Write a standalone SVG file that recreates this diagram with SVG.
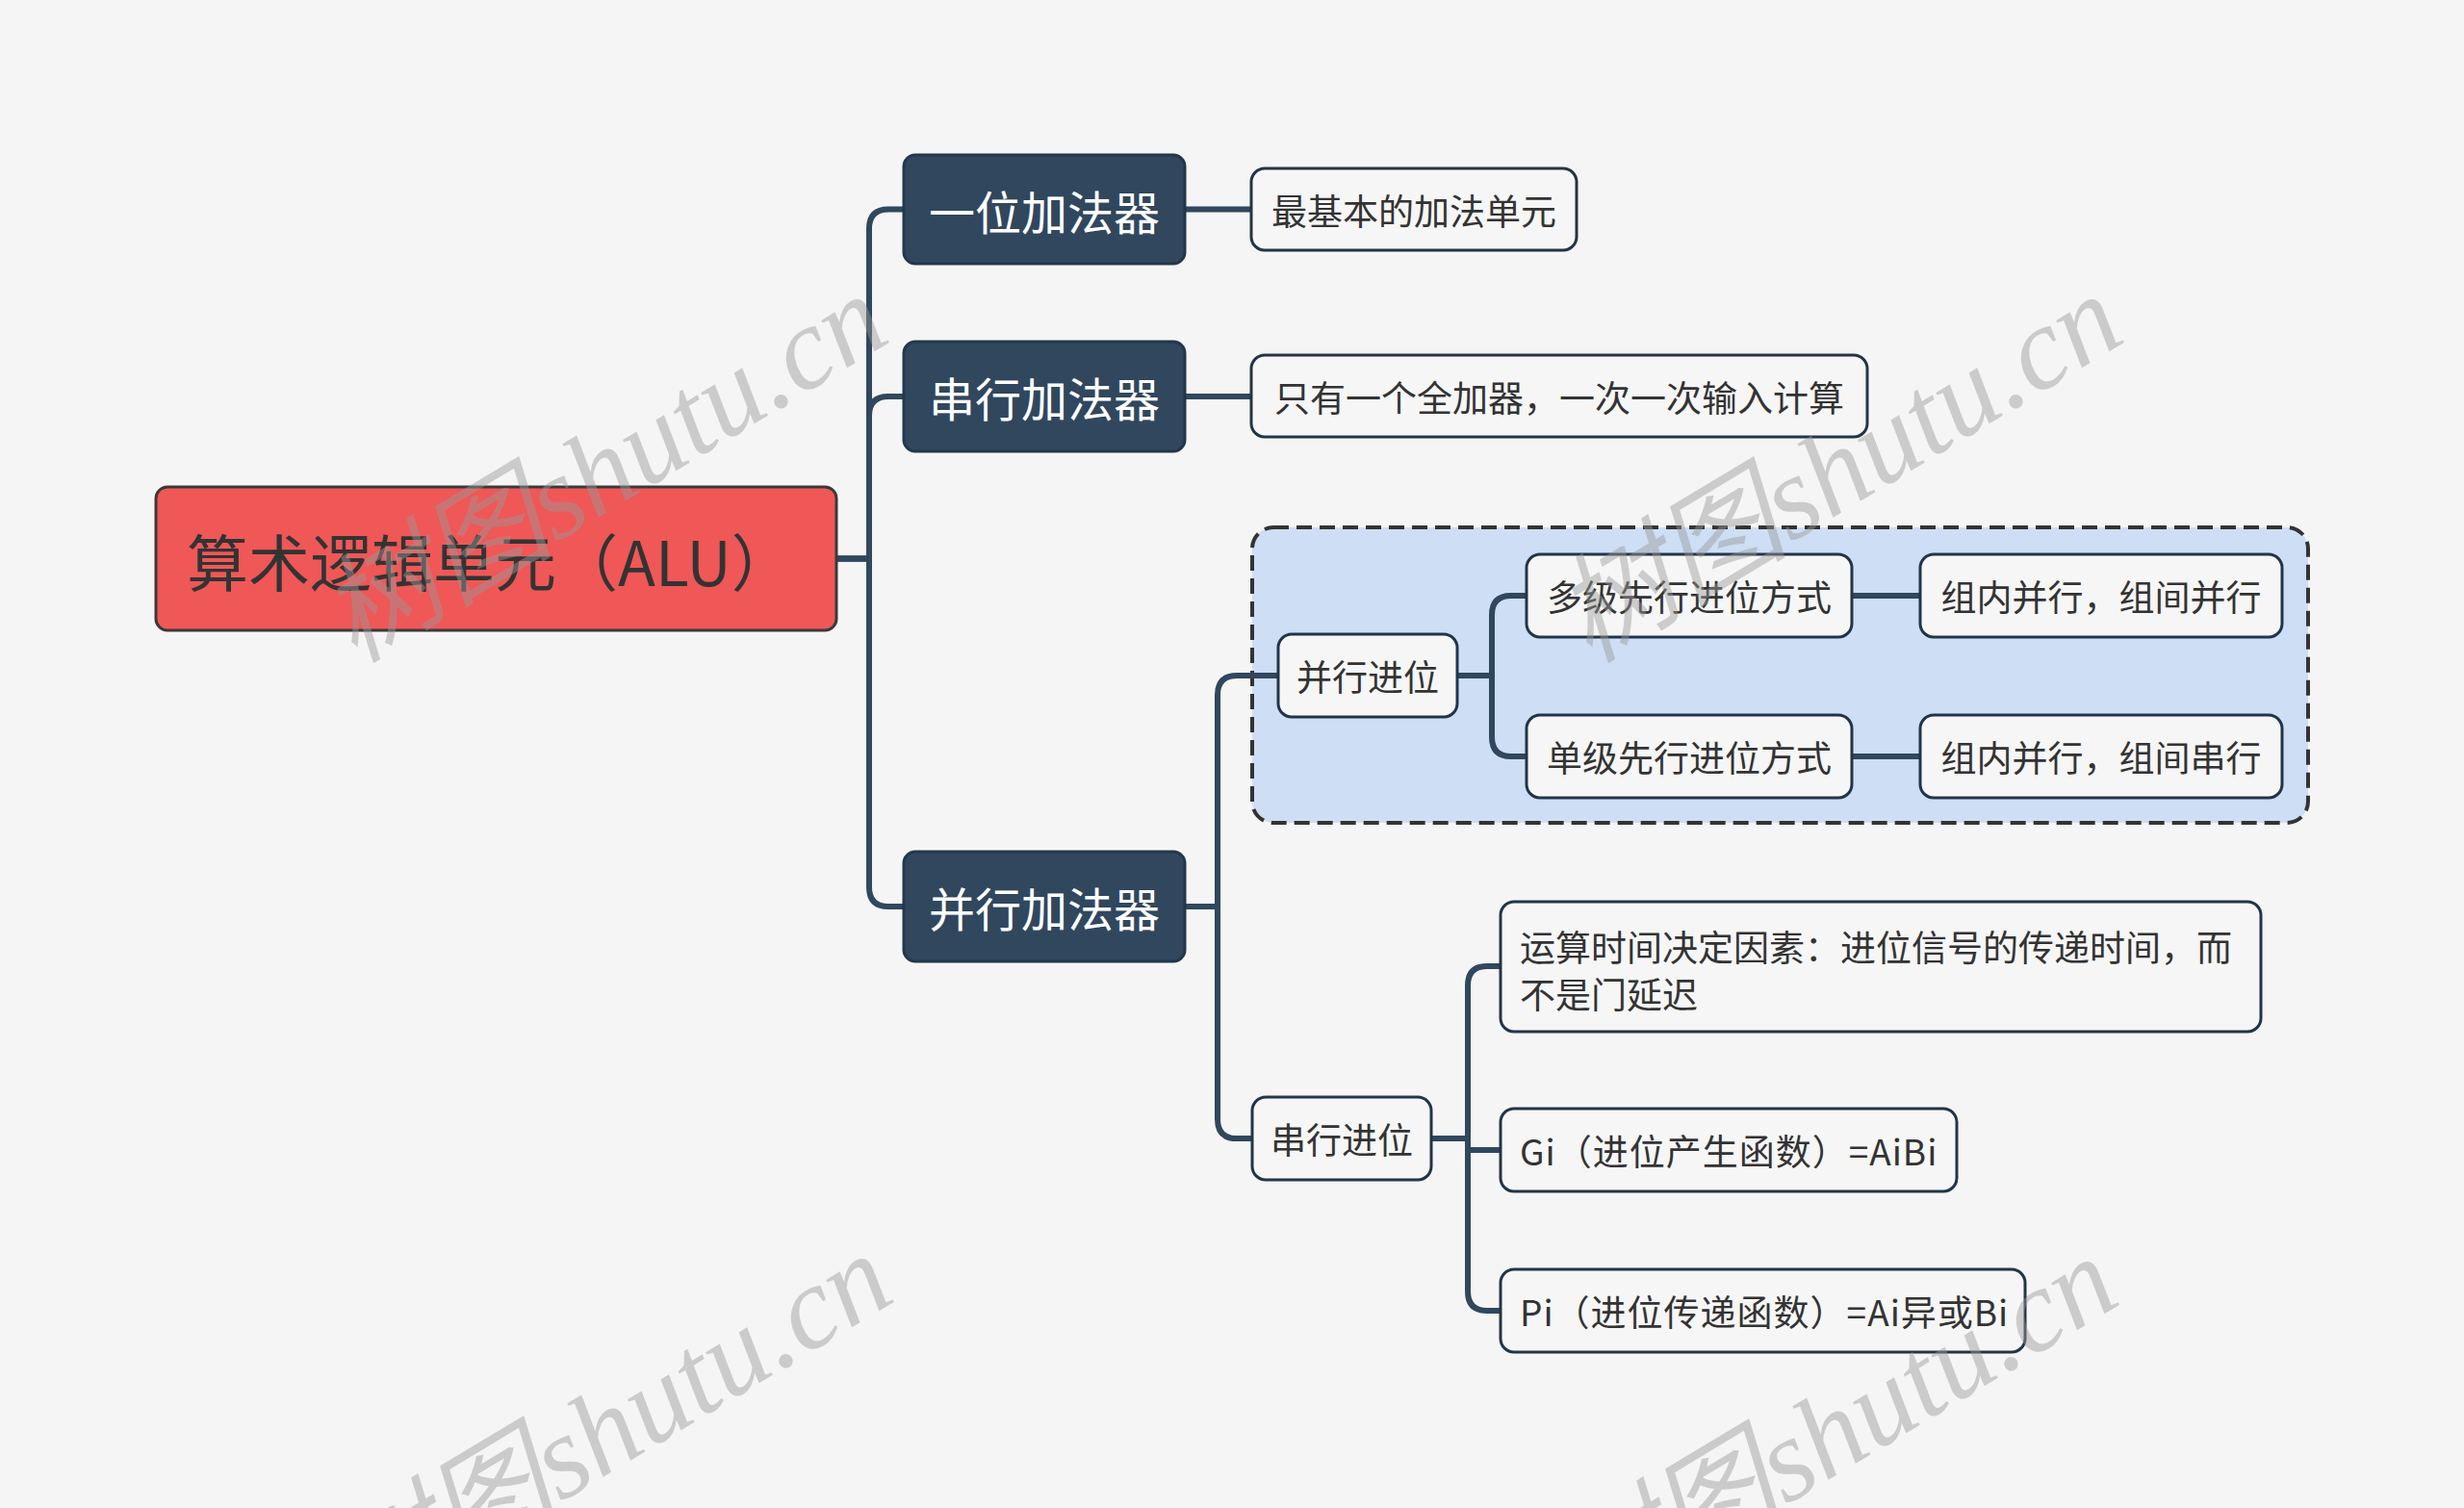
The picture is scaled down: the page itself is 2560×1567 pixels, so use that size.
<svg xmlns="http://www.w3.org/2000/svg" width="2560" height="1567" viewBox="0 0 2560 1567">
<defs>
<style>
.bg{fill:#f5f5f5}
.root rect{fill:#f05757;stroke:#3a3a3a;stroke-width:3}
.root text{font-family:"Noto Sans CJK SC","Noto Sans",sans-serif;font-size:64px;fill:#333;dominant-baseline:central}
.l1 rect{fill:#30475e;stroke:#24374a;stroke-width:3}
.l1 text{font-family:"Noto Sans CJK SC","Noto Sans",sans-serif;font-size:48px;fill:#fff;text-anchor:middle;dominant-baseline:central}
.lf rect{fill:#f6f6f6;stroke:#223548;stroke-width:3}
.lf text{font-family:"Noto Sans CJK SC","Noto Sans",sans-serif;font-size:37px;fill:#333;dominant-baseline:central}
.lf text.c{text-anchor:middle}
.lf text.w{letter-spacing:1px}
.conn path{fill:none;stroke:#30475e;stroke-width:6;stroke-linejoin:round}
.wm{font-family:"Liberation Serif","Noto Sans CJK SC",serif;font-style:italic;font-size:122px;fill:#999;fill-opacity:0.45}
</style>
</defs>
<rect class="bg" x="0" y="0" width="2560" height="1567"/>

<g id="boundary">
<rect x="1301" y="548" width="1097" height="307" rx="22" fill="#cddef5" stroke="#333" stroke-width="4" stroke-dasharray="16 8"/>
</g>

<g class="conn" id="connectors">
<path d="M869 580.5 H903 V237.5 Q903 217.5 923 217.5 H939"/>
<path d="M869 580.5 H903 V432 Q903 412 923 412 H939"/>
<path d="M869 580.5 H903 V922 Q903 942 923 942 H939"/>
<path d="M1231 217.5 H1300"/>
<path d="M1231 412 H1300"/>
<path d="M1231 942 H1265 V722 Q1265 702 1285 702 H1328"/>
<path d="M1231 942 H1265 V1163 Q1265 1183 1285 1183 H1301"/>
<path d="M1514 702 H1550 V639 Q1550 619 1570 619 H1586"/>
<path d="M1514 702 H1550 V766 Q1550 786 1570 786 H1586"/>
<path d="M1924 619 H1995"/>
<path d="M1924 786 H1995"/>
<path d="M1487 1183 H1525 V1024 Q1525 1004 1545 1004 H1559"/>
<path d="M1487 1183 H1525 V1195 H1559"/>
<path d="M1487 1183 H1525 V1342 Q1525 1362 1545 1362 H1559"/>
</g>

<g id="n-root" class="root">
<rect x="162" y="506" width="707" height="149" rx="12"/>
<text x="194" y="580.5">算术逻辑单元（ALU）</text>
</g>

<g id="n-yiwei" class="l1">
<rect x="939" y="161" width="292" height="113" rx="12"/>
<text x="1085" y="217.5">一位加法器</text>
</g>
<g id="n-chuanxing" class="l1">
<rect x="939" y="355" width="292" height="114" rx="12"/>
<text x="1085" y="412">串行加法器</text>
</g>
<g id="n-bingxing" class="l1">
<rect x="939" y="885" width="292" height="114" rx="12"/>
<text x="1085" y="942">并行加法器</text>
</g>

<g id="n-zuijiben" class="lf">
<rect x="1300" y="175" width="338" height="85" rx="14"/>
<text class="c" x="1469" y="217.5">最基本的加法单元</text>
</g>
<g id="n-zhiyou" class="lf">
<rect x="1300" y="369" width="640" height="85" rx="14"/>
<text class="c" x="1620" y="411.5">只有一个全加器，一次一次输入计算</text>
</g>

<g id="n-bxjw" class="lf">
<rect x="1328" y="659" width="186" height="86" rx="14"/>
<text class="c" x="1421" y="702">并行进位</text>
</g>
<g id="n-duoji" class="lf">
<rect x="1586" y="576" width="338" height="86" rx="14"/>
<text class="c" x="1755" y="619">多级先行进位方式</text>
</g>
<g id="n-zn1" class="lf">
<rect x="1995" y="576" width="376" height="86" rx="14"/>
<text class="c" x="2183" y="619">组内并行，组间并行</text>
</g>
<g id="n-danji" class="lf">
<rect x="1586" y="743" width="338" height="86" rx="14"/>
<text class="c" x="1755" y="786">单级先行进位方式</text>
</g>
<g id="n-zn2" class="lf">
<rect x="1995" y="743" width="376" height="86" rx="14"/>
<text class="c" x="2183" y="786">组内并行，组间串行</text>
</g>

<g id="n-cxjw" class="lf">
<rect x="1301" y="1140" width="186" height="86" rx="14"/>
<text class="c" x="1394" y="1183">串行进位</text>
</g>
<g id="n-yunsuan" class="lf">
<rect x="1559" y="937" width="790" height="135" rx="14"/>
<text x="1579" y="983">运算时间决定因素：进位信号的传递时间，而</text>
<text x="1579" y="1032">不是门延迟</text>
</g>
<g id="n-gi" class="lf">
<rect x="1559" y="1152" width="474" height="86" rx="14"/>
<text class="w" x="1579" y="1195">Gi（进位产生函数）=AiBi</text>
</g>
<g id="n-pi" class="lf">
<rect x="1559" y="1319" width="545" height="86" rx="14"/>
<text class="w" x="1579" y="1362">Pi（进位传递函数）=Ai异或Bi</text>
</g>

<g id="watermarks">
<text class="wm" transform="translate(368,690) rotate(-31)">树图shutu.cn</text>
<text class="wm" transform="translate(1651,690) rotate(-31)">树图shutu.cn</text>
<text class="wm" transform="translate(373,1687) rotate(-31)">树图shutu.cn</text>
<text class="wm" transform="translate(1646,1690) rotate(-31)">树图shutu.cn</text>
</g>
</svg>
